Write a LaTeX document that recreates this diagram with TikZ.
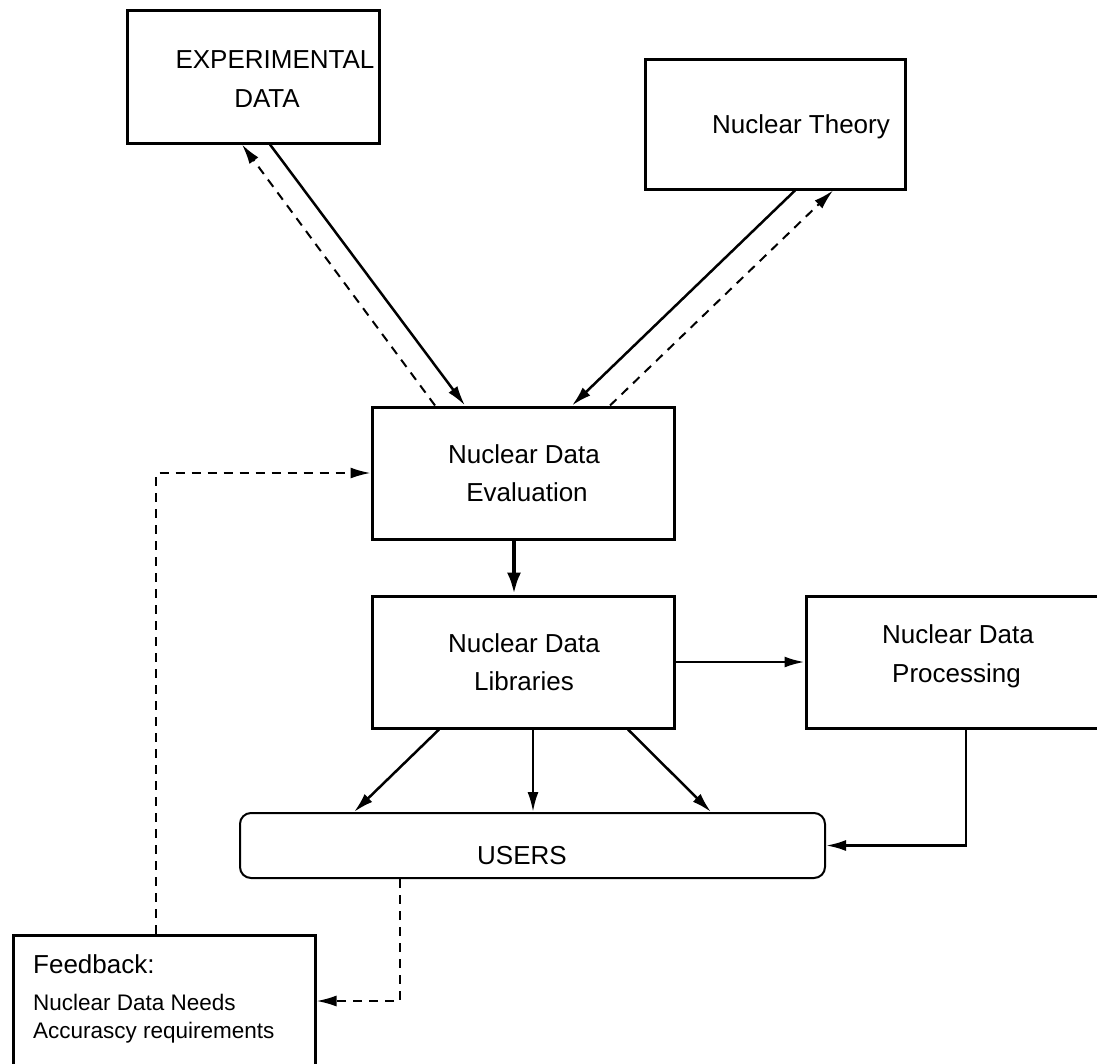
\documentclass[tikz,border=0pt]{standalone}
\usepackage{fontspec}
\setmainfont{Liberation Sans}
\usetikzlibrary{arrows.meta}
\begin{document}
\begin{tikzpicture}[x=1pt,y=-1pt,
  box/.style={draw, line width=3pt, inner sep=0pt},
  userbox/.style={draw, line width=2pt, rounded corners=11pt, inner sep=0pt},
  txt/.style={anchor=base, inner sep=0pt, font=\fontsize{26}{30}\selectfont},
  small/.style={anchor=base west, inner sep=0pt, font=\fontsize{22.5}{27}\selectfont},
  link/.style={line width=2.5pt, -{Latex[length=20pt,width=11pt]}},
  thick link/.style={line width=4.5pt, -{Latex[length=22pt,width=14pt]}},
  back/.style={line width=2pt, dash pattern=on 9pt off 7pt, -{Latex[length=20pt,width=11pt]}},
]
\useasboundingbox (0,0) rectangle (1097,1063);

% boxes
\node[box, minimum width=252pt, minimum height=133pt] (exp) at (253,76.5) {};
\node[box, minimum width=260pt, minimum height=130pt] (theory) at (775,124) {};
\node[box, minimum width=302pt, minimum height=132pt] (eval) at (523,473) {};
\node[box, minimum width=302pt, minimum height=132pt] (lib) at (523,662) {};
\node[box, minimum width=294pt, minimum height=132pt] (proc) at (953,662) {};
\node[userbox, minimum width=585pt, minimum height=65pt] (users) at (532.5,845.5) {};
\node[box, minimum width=302pt, minimum height=132pt] (fb) at (164,1001) {};

% box texts
\node[txt] (exp1) at (275,68) {EXPERIMENTAL};
\node[txt] (exp2) at (267,107) {DATA};
\node[txt] (th1) at (801,133) {Nuclear Theory};
\node[txt] (ev1) at (524,463) {Nuclear Data};
\node[txt] (ev2) at (527,501) {Evaluation};
\node[txt] (lb1) at (524,652) {Nuclear Data};
\node[txt] (lb2) at (524,690) {Libraries};
\node[txt] (pr1) at (958,643) {Nuclear Data};
\node[txt] (pr2) at (956.5,682) {Processing};
\node[txt] (us1) at (522,864) {USERS};
\node[txt, anchor=base west] (fbh) at (33,973) {Feedback:};
\node[small] (fb1) at (33,1010) {Nuclear Data Needs};
\node[small] (fb2) at (33,1038) {Accurascy requirements};

% data flow into the evaluation
\draw[link] ([xshift=17pt]exp.south) -- ([xshift=-58pt]eval.north);
\draw[back] ([xshift=-88pt]eval.north) -- ([xshift=-11pt]exp.south);
\draw[link] ([xshift=20pt]theory.south) -- ([xshift=49pt]eval.north);
\draw[back] ([xshift=87pt]eval.north) -- ([xshift=58pt]theory.south);

% evaluation to libraries
\coordinate (evout) at ([xshift=-9pt]eval.south);
\draw[thick link] (evout) -- (evout |- lib.north);

% libraries to processing and users
\draw[link] (lib.east) -- (proc.west);
\draw[link] ([xshift=-84pt]lib.south) -- ([xshift=-178.5pt]users.north);
\draw[link] ([xshift=10pt]lib.south) -- ([xshift=0.5pt]users.north);
\draw[link] ([xshift=105pt]lib.south) -- ([xshift=178.5pt]users.north);
\coordinate (prout) at ([xshift=13pt]proc.south);
\draw[link] (prout) |- (users.east);

% feedback loop
\coordinate (usout) at ([xshift=-132.5pt]users.south);
\draw[back] (usout) |- (fb.east);
\coordinate (fbout) at ([xshift=-8pt]fb.north);
\draw[back] (fbout) |- (eval.west);
\end{tikzpicture}
\end{document}
